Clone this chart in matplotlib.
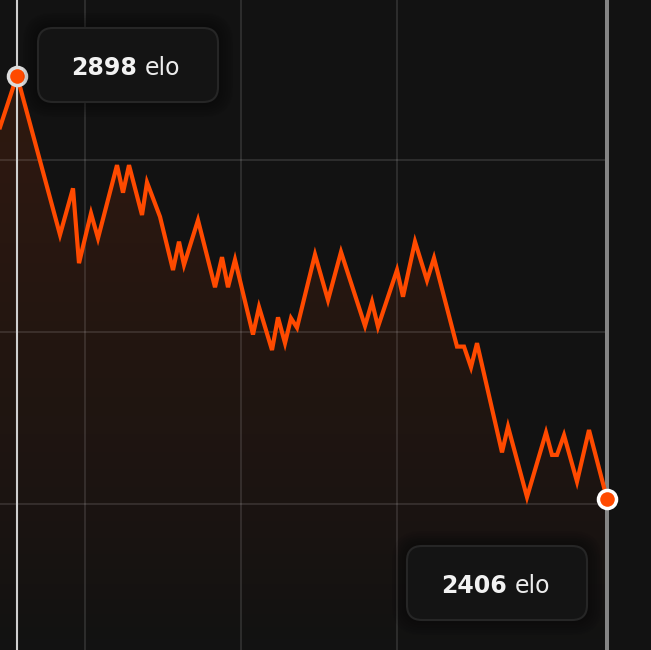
import numpy as np
import matplotlib.pyplot as plt
from matplotlib.patches import FancyBboxPatch

# elo history (x = match position along the timeline, y = elo)
games = [0, 17, 60, 73, 79, 91, 98, 117, 123, 129, 142, 147, 160, 173, 179, 184,
         198, 215, 222, 228, 235, 253, 259, 272, 278, 285, 291, 297, 315, 328, 341,
         365, 372, 378, 397, 403, 415, 427, 434, 457, 464, 471, 477, 502, 508, 527,
         546, 552, 557, 564, 577, 589, 607]
elo = [2838, 2898, 2713, 2767, 2680, 2738, 2709, 2794, 2762, 2794, 2736, 2774,
       2734, 2672, 2705, 2678, 2730, 2652, 2687, 2652, 2684, 2597, 2629, 2579,
       2617, 2587, 2616, 2605, 2690, 2637, 2693, 2607, 2635, 2606, 2672, 2641,
       2705, 2660, 2686, 2583, 2583, 2559, 2587, 2460, 2490, 2408, 2483, 2457,
       2457, 2480, 2426, 2486, 2406]
elo_grid = [2400, 2600, 2800]
x_grid = [85, 241, 397]

bg = '#121212'
orange = '#ff4a00'
W, H = 651, 650

fig = plt.figure(figsize=(6.51, 6.5), dpi=100)
fig.patch.set_facecolor(bg)
ax = fig.add_axes([0, 0, 1, 1])
ax.set_facecolor(bg)
ymin, ymax = 2230.2, 2986.0
ax.set_xlim(0, W)
ax.set_ylim(ymin, ymax)
for s in ax.spines.values():
    s.set_visible(False)
ax.set_xticks([])
ax.set_yticks([])

# gradient fill under the line
poly = ax.fill_between(games, elo, ymin, color='none', lw=0)
t = np.linspace(0, 1, 256)
grad = np.zeros((256, 1, 4))
grad[:, 0, 0] = 1.0
grad[:, 0, 1] = 0.29
grad[:, 0, 2] = 0.0
grad[:, 0, 3] = 0.14 * t ** 0.85
im = ax.imshow(grad, origin='lower', aspect='auto',
               extent=[0, games[-1], ymin, ymax], zorder=1)
im.set_clip_path(poly.get_paths()[0], ax.transData)

# grid
ax.hlines(elo_grid, 0, games[-1], colors='white', alpha=0.11, lw=1.5, zorder=2)
ax.vlines(x_grid, ymin, ymax, colors='white', alpha=0.11, lw=1.5, zorder=2)

# highlight lines
ax.axvline(games[1], color='#cfcfcf', lw=1.5, zorder=3)
ax.axvline(games[-1], color='#858585', lw=2.9, zorder=3)

ax.plot(games, elo, color=orange, lw=3, solid_joinstyle='miter', zorder=4)
ax.plot(games[1], elo[1], 'o', ms=13, mfc=orange, mec='#dcdcdc', mew=2.5, zorder=5)
ax.plot(games[-1], elo[-1], 'o', ms=13, mfc=orange, mec='white', mew=2.5, zorder=5)


def label_box(x0, y0, x1, y1, num, split, base):
    for i in range(6, 0, -1):
        e = i * 2.5
        sh = FancyBboxPatch(((x0 - e) / W, 1 - (y1 + e) / H), (x1 - x0 + 2 * e) / W,
                            (y1 - y0 + 2 * e) / H,
                            boxstyle='round,pad=0,rounding_size=%f' % ((15 + e) / W),
                            transform=ax.transAxes, fc='black', ec='none',
                            alpha=0.06, zorder=6)
        ax.add_patch(sh)
    box = FancyBboxPatch((x0 / W, 1 - y1 / H), (x1 - x0) / W, (y1 - y0) / H,
                         boxstyle='round,pad=0,rounding_size=%f' % (15 / W),
                         transform=ax.transAxes, fc='#141414', ec='#262626',
                         lw=1.5, zorder=7)
    ax.add_patch(box)
    fig.text(split / W, 1 - base / H, str(num), ha='right', va='baseline',
             fontsize=17, fontweight='bold', color='#f2f2f2', zorder=8)
    fig.text((split + 8) / W, 1 - base / H, 'elo', ha='left', va='baseline',
             fontsize=17, color='#ececec', zorder=8)


label_box(38, 28, 218, 102, elo[1], 137, 75)
label_box(407, 546, 587, 620, elo[-1], 507, 593)

fig.savefig('out.png', dpi=100, facecolor=bg)
